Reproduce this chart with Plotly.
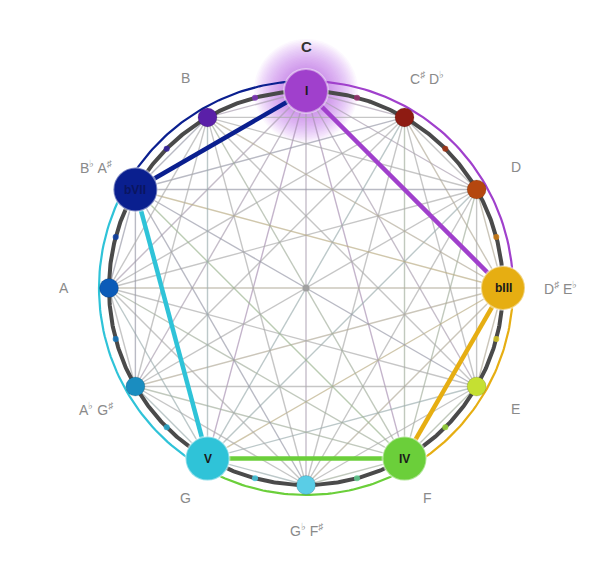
import math
import plotly.graph_objects as go

# ---- data ----
notes = ["C", "C<sup>♯</sup> D<sup>♭</sup>", "D", "D<sup>♯</sup> E<sup>♭</sup>", "E", "F",
         "G<sup>♭</sup> F<sup>♯</sup>", "G", "A<sup>♭</sup> G<sup>♯</sup>", "A", "B<sup>♭</sup> A<sup>♯</sup>", "B"]
note_colors = ["#A040CC", "#8E1B12", "#B5470F", "#E6AE12", "#C5E032", "#6BCF3A",
               "#5ACDE6", "#2FC3D8", "#1A8DC0", "#0B5BB8", "#0A1F8F", "#5A1FA8"]
chord_steps = [0, 3, 5, 7, 10]
chord_names = ["I", "bIII", "IV", "V", "bVII"]
progression = [0, 3, 5, 7, 10, 0]

# ---- geometry (pixel space) ----
W, H = 615, 569
CX, CY, R = 298, 280, 197
R_ARC, R_LAB = 207, 242


def pos(step, r=R):
    a = math.radians(step * 30)
    return CX + r * math.sin(a), CY - r * math.cos(a)


def hex2rgb(h):
    h = h.lstrip("#")
    return tuple(int(h[i:i + 2], 16) for i in (0, 2, 4))


def mix(c1, c2, t):
    a, b = hex2rgb(c1), hex2rgb(c2)
    return tuple(round(a[i] * (1 - t) + b[i] * t) for i in range(3))


fig = go.Figure()

# soft glow around tonic (one trace, stacked markers)
gx, gy = pos(0)
glow_sizes = list(range(104, 44, -3))
fig.add_trace(go.Scatter(x=[gx] * len(glow_sizes), y=[gy] * len(glow_sizes), mode="markers",
                         marker=dict(size=glow_sizes, color="rgba(185,95,225,0.045)",
                                     opacity=1, line=dict(width=0)),
                         hoverinfo="skip", showlegend=False))

# complete graph lines
gray = "#ABABAB"
for i in range(12):
    for j in range(i + 1, 12):
        x1, y1 = pos(i)
        x2, y2 = pos(j)
        tint = 0.0
        if i in chord_steps and j in chord_steps:
            tint = 0.25
        elif i in chord_steps or j in chord_steps:
            tint = 0.12
        c = mix(gray, note_colors[i if i in chord_steps else j], tint)
        fig.add_trace(go.Scatter(x=[x1, x2], y=[y1, y2], mode="lines",
                                 line=dict(color=f"rgba({c[0]},{c[1]},{c[2]},0.68)", width=1.4),
                                 hoverinfo="skip", showlegend=False))

# center dot
fig.add_trace(go.Scatter(x=[CX], y=[CY], mode="markers",
                         marker=dict(size=7, color="#A0A0A0", opacity=1),
                         hoverinfo="skip", showlegend=False))

# dark ring
ts = [k / 2 for k in range(0, 721)]
fig.add_trace(go.Scatter(x=[pos(t / 30)[0] for t in ts], y=[pos(t / 30)[1] for t in ts],
                         mode="lines", line=dict(color="#4A4A4A", width=4),
                         hoverinfo="skip", showlegend=False))

# outer coloured arcs
for a, b in zip(progression[:-1], progression[1:]):
    end = b if b > a else b + 12
    steps = [a + (end - a) * k / 60 for k in range(61)]
    fig.add_trace(go.Scatter(x=[pos(s, R_ARC)[0] for s in steps], y=[pos(s, R_ARC)[1] for s in steps],
                             mode="lines", line=dict(color=note_colors[a], width=2.2),
                             hoverinfo="skip", showlegend=False))

# thick progression edges
for a, b in zip(progression[:-1], progression[1:]):
    x1, y1 = pos(a)
    x2, y2 = pos(b)
    fig.add_trace(go.Scatter(x=[x1, x2], y=[y1, y2], mode="lines",
                             line=dict(color=note_colors[a], width=4.5),
                             hoverinfo="skip", showlegend=False))

# tiny half-step dots
half_x, half_y, half_c = [], [], []
for i in range(12):
    c = mix(note_colors[i], note_colors[(i + 1) % 12], 0.5)
    x, y = pos(i + 0.5)
    half_x.append(x)
    half_y.append(y)
    half_c.append(f"rgb({c[0]},{c[1]},{c[2]})")
fig.add_trace(go.Scatter(x=half_x, y=half_y, mode="markers",
                         marker=dict(size=6, color=half_c, opacity=0.85),
                         hoverinfo="skip", showlegend=False))

# note nodes
nx, ny, ns, nl, nw = [], [], [], [], []
for i in range(12):
    x, y = pos(i)
    big = i in chord_steps
    nx.append(x)
    ny.append(y)
    ns.append(44 if big else 19)
    nl.append("rgba(255,255,255,0.45)" if big else "rgba(0,0,0,0.15)")
    nw.append(2 if big else 1)
fig.add_trace(go.Scatter(x=nx, y=ny, mode="markers",
                         marker=dict(size=ns, color=note_colors, opacity=1,
                                     line=dict(color=nl, width=nw)),
                         hoverinfo="skip", showlegend=False))

# chord labels inside big nodes
for name, i in zip(chord_names, chord_steps):
    x, y = pos(i)
    fig.add_annotation(x=x, y=y, text=f"<b>{name}</b>", showarrow=False,
                       font=dict(family="Arial, Liberation Sans", size=12,
                                 color="#1a1a1a" if i != 10 else "#0a1560"))

# note labels
for i in range(12):
    x, y = pos(i, R_LAB)
    if i == 3:
        x += 12
    fig.add_annotation(x=x, y=y, text=f"<b>{notes[i]}</b>" if i == 0 else notes[i],
                       showarrow=False,
                       font=dict(family="Arial, Liberation Sans", size=15 if i == 0 else 14,
                                 color="#333333" if i == 0 else "#8A8A8A"))

fig.update_layout(width=W, height=H, autosize=False,
                  margin=dict(l=0, r=0, t=0, b=0),
                  paper_bgcolor="white", plot_bgcolor="white",
                  xaxis=dict(range=[0, W], visible=False, fixedrange=True),
                  yaxis=dict(range=[H, 0], visible=False, fixedrange=True))
fig.write_html("out.html")
